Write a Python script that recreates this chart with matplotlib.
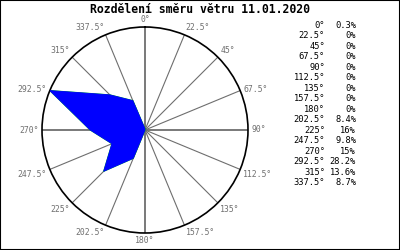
import numpy as np
import matplotlib

matplotlib.use("Agg")
from matplotlib import pyplot as plt
from matplotlib.patches import Rectangle

title = "Rozdělení směru větru 11.01.2020"
directions = [0, 22.5, 45, 67.5, 90, 112.5, 135, 157.5,
              180, 202.5, 225, 247.5, 270, 292.5, 315, 337.5]
percent = [0.3, 0, 0, 0, 0, 0, 0, 0,
           0, 8.4, 16, 9.8, 15, 28.2, 13.6, 8.7]

mono = 'DejaVu Sans Mono'

fig = plt.figure(figsize=(4, 2.5), dpi=100)
ax = fig.add_axes([0.105, 0.068, 0.515, 0.824], projection='polar')
ax.set_theta_zero_location('N')
ax.set_theta_direction(-1)
rmax = max(percent)
ax.set_ylim(0, rmax)

theta = np.radians(directions)
tt = np.append(theta, theta[0])
rr = np.append(percent, percent[0])

# spokes
for t, d in zip(theta, directions):
    lw = 1.3 if d % 90 == 0 else 0.8
    ax.plot([t, t], [0, rmax], color='#6e6e6e', lw=lw, zorder=1)

# thin green outline, mostly hidden by the blue fill
ax.plot(tt, rr, color='#00cc00', lw=0.8, zorder=2)
ax.fill(tt, rr, facecolor='#0000ff', edgecolor='#0000ff', lw=0.6, zorder=3)

ax.grid(False)
ax.set_xticks([])
ax.set_yticks([])
ax.spines['polar'].set_linewidth(1.2)
ax.spines['polar'].set_color('black')

# direction labels round the circle
for t, d in zip(theta, directions):
    s, c = np.sin(t), np.cos(t)
    ha = 'center' if abs(s) < 0.1 else ('left' if s > 0 else 'right')
    va = 'bottom' if c > 0.5 else ('top' if c < -0.5 else 'center')
    dy = c * 2.5
    if va == 'center' and c < -0.1:
        dy -= 2.5
    ax.annotate(f"{d:g}°", xy=(t, rmax), xytext=(s * 2.5, dy),
                textcoords='offset points', ha=ha, va=va,
                fontfamily=mono, fontsize=5.9, color='#707070',
                annotation_clip=False)

fig.text(0.5, 1 - 9.5 / 250, title, ha='center', va='center',
         fontfamily=mono, fontweight='bold', fontsize=8.3)

# table on the right
for i, (d, p) in enumerate(zip(directions, percent)):
    y = 1 - (25 + i * 10.53) / 250
    fig.text(325 / 400, y, f"{d:g}°", ha='right', va='center',
             fontfamily=mono, fontsize=6.3, color='black')
    fig.text(356 / 400, y, f"{p:g}%", ha='right', va='center',
             fontfamily=mono, fontsize=6.3, color='black')

fig.add_artist(Rectangle((0, 0), 1, 1, transform=fig.transFigure,
                         fill=False, edgecolor='black', lw=1.5))

fig.savefig('out.png', dpi=100)
